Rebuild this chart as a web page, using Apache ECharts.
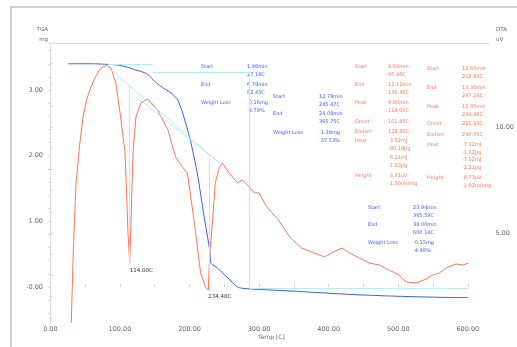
<!DOCTYPE html>
<html><head><meta charset="utf-8">
<script src="https://cdn.jsdelivr.net/npm/echarts@6/dist/echarts.min.js"></script>
<style>html,body{margin:0;padding:0;background:#fff}#c{width:517px;height:347px}</style>
</head><body><div id="c"></div>
<script>
// ---- data ----
const tgaTemp = [26, 60, 83, 97, 110, 121, 131, 140, 150, 161, 173, 183, 191, 201, 211, 221, 229, 231, 240, 254, 269, 276, 297, 354, 426, 497, 583, 600];
const tgaMass = [3.40, 3.40, 3.39, 3.38, 3.35, 3.31, 3.28, 3.24, 3.13, 3.04, 2.96, 2.85, 2.62, 2.24, 1.74, 1.07, 0.56, 0.36, 0.29, 0.15, 0.00, -0.02, -0.035, -0.065, -0.11, -0.14, -0.16, -0.16];

const dtaTemp = [30, 33, 37, 42, 47, 52, 57, 64, 71, 80, 87, 94, 101, 104, 107, 109, 111.5, 114, 116, 119, 123, 130, 140, 154, 169, 180, 190, 197, 207, 216, 223, 227, 229, 233, 237, 243, 247, 257, 269, 276, 286, 293, 300, 311, 328, 344, 361, 379, 394, 404, 419, 430, 444, 459, 473, 487, 501, 511, 526, 540, 550, 559, 569, 583, 593, 601];
const dtaSignal = [0.76, 4.21, 7.38, 9.15, 10.47, 11.27, 11.78, 12.31, 12.72, 12.91, 12.78, 12.08, 10.47, 9.62, 8.92, 7.36, 5.0, 3.58, 5.75, 8.92, 10.47, 11.13, 11.32, 10.8, 9.86, 8.58, 8.1, 7.83, 5.47, 3.11, 2.45, 2.31, 4.06, 5.47, 7.36, 8.11, 8.30, 7.83, 7.36, 7.5, 7.17, 6.89, 6.89, 6.23, 5.61, 4.81, 4.29, 4.06, 3.87, 4.06, 4.29, 4.06, 3.82, 3.58, 3.49, 3.25, 3.02, 2.69, 2.64, 2.83, 3.02, 3.11, 3.35, 3.54, 3.49, 3.58];

const xTickValues = [0, 50, 100, 150, 200, 250, 300, 350, 400, 450, 500, 550, 600];
const xLabelValues = [0, 100, 200, 300, 400, 500, 600];
const xTickLabels = ['0.00', '100.00', '200.00', '300.00', '400.00', '500.00', '600.00'];
const tgaLabelValues = [0, 1, 2, 3];
const tgaTickLabels = ['-0.00', '1.00', '2.00', '3.00'];
const tgaTickValues = [-0.4, -0.2, 0, 0.2, 0.4, 0.6, 0.8, 1, 1.2, 1.4, 1.6, 1.8, 2, 2.2, 2.4, 2.6, 2.8, 3, 3.2, 3.4, 3.6];
const dtaLabelValues = [5, 10];
const dtaTickLabels = ['5.00', '10.00'];
const dtaTickValues = [1, 2, 3, 4, 5, 6, 7, 8, 9, 10, 11, 12, 13];

const peakTemps = [114, 227];
const peakLabels = ['114.00C', '234.48C'];

// construction (tangent) lines in TGA axis units: [t1, m1, t2, m2]
const tangentLines = [
  [83, 3.40, 147, 3.40],
  [147, 3.27, 286, 3.27],
  [286, 3.27, 286, -0.02],
  [286, -0.02, 600, -0.02],
  [114, 3.08, 114, 0.33],
  [229, 1.98, 229, -0.05],
  [80, 3.37, 243, 1.89],
  [123, 2.90, 243, 1.89]
];

// result tables
const blueTable1 = [['Start', ['1.98min', '27.16C']], ['End', ['6.79min', '82.45C']], ['Weight Loss', ['-0.16mg', '-4.79%']]];
const blueTable2 = [['Start', ['12.78min', '245.47C']], ['End', ['24.08min', '365.75C']], ['Weight Loss', ['-1.38mg', '-37.53%']]];
const blueTable3 = [['Start', ['23.94min', '365.59C']], ['End', ['38.00min', '600.14C']], ['Weight Loss', ['-0.15mg', '-4.48%']]];
const redTable1 = [['Start', ['4.84min', '95.45C']], ['End', ['12.11min', '136.45C']], ['Peak', ['9.80min', '114.00C']], ['Onset', ['101.85C']], ['Endset', ['128.50C']], ['Heat', ['-3.52mJ', '-80.18J/g', '-6.24mJ', '-1.83J/g']], ['Height', ['-3.31uV', '-1.30uV/mg']]];
const redTable2 = [['Start', ['12.60min', '218.83C']], ['End', ['13.30min', '247.24C']], ['Peak', ['12.95min', '234.48C']], ['Onset', ['221.19C']], ['Endset', ['240.05C']], ['Heat', ['-7.12mJ', '-1.62J/g', '-7.52mJ', '-2.21J/g']], ['Height', ['-8.73uV', '-1.92uV/mg']]];

// ---- layout ----
const BLUE = '#3b5bf5', RED = '#ff7458', CYAN = '#b4eeee';
const AX = '#dcdcdc', LBL = '#666';
const FONT = 'DejaVu Sans';

function tableGraphics(rows, xL, xV, y0, rowYs, lineGap, color) {
  const out = [];
  rows.forEach((r, i) => {
    const y = rowYs[i];
    out.push({ type: 'text', left: xL, top: y - 3, style: { text: r[0], fill: color, font: '5px ' + FONT } });
    r[1].forEach((v, j) => {
      out.push({ type: 'text', left: xV, top: y - 3 + j * lineGap, style: { text: v, fill: color, font: '5px ' + FONT } });
    });
  });
  return out;
}

const graphics = [
  { type: 'rect', shape: { x: 11, y: 7, width: 620, height: 420 }, style: { fill: 'none', stroke: '#cfcfcf', lineWidth: 2 }, z: -1 },
  { type: 'text', right: 517 - 48, top: 27, style: { text: 'TGA', fill: LBL, font: '5.5px ' + FONT, textAlign: 'right' } },
  { type: 'text', right: 517 - 48, top: 37, style: { text: 'mg', fill: LBL, font: '5.5px ' + FONT, textAlign: 'right' } },
  { type: 'text', left: 496, top: 27, style: { text: 'DTA', fill: LBL, font: '5.5px ' + FONT } },
  { type: 'text', left: 496, top: 37, style: { text: 'uV', fill: LBL, font: '5.5px ' + FONT } },
  { type: 'text', left: 258, top: 334, style: { text: 'Temp [C]', fill: LBL, font: '6px ' + FONT } }
].concat(
  tableGraphics(blueTable1, 201, 247, 0, [67, 85, 103], 8.5, BLUE),
  tableGraphics(blueTable2, 273, 319, 0, [97, 114, 133], 8, BLUE),
  tableGraphics(blueTable3, 368, 413, 0, [208, 225, 243], 8.5, BLUE),
  tableGraphics(redTable1, 355, 388, 0, [67, 85, 103, 122, 132, 141, 176], 8.5, RED),
  tableGraphics(redTable2, 427, 462, 0, [69, 88, 107, 124, 135, 145, 178], 7.8, RED)
);

const tgaData = tgaTemp.map((t, i) => [t, tgaMass[i]]);
const dtaData = dtaTemp.map((t, i) => [t, dtaSignal[i]]);
const peakPoints = peakTemps.map((t, i) => ({
  coord: [t, dtaSignal[dtaTemp.indexOf(t)]],
  value: peakLabels[i]
}));

const chart = echarts.init(document.getElementById('c'), null, { renderer: 'canvas' });
chart.setOption({
  animation: false,
  backgroundColor: '#fff',
  grid: { left: 49, right: 23, top: 43, bottom: 24, containLabel: false },
  xAxis: [
    {
      type: 'value', min: -2, max: 631, position: 'bottom',
      axisLine: { show: false },
      axisTick: { show: true, inside: true, length: 3, customValues: xTickValues, lineStyle: { color: '#cfcfcf' } },
      axisLabel: { customValues: xLabelValues, margin: 3, fontSize: 6.5, color: LBL, fontFamily: FONT,
        formatter: v => xTickLabels[xLabelValues.indexOf(v)] },
      splitLine: { show: false }
    },
    {
      type: 'value', min: -2, max: 631, position: 'top',
      axisLine: { show: true, lineStyle: { color: AX } },
      axisTick: { show: false }, axisLabel: { show: false }, splitLine: { show: false }
    }
  ],
  yAxis: [
    {
      type: 'value', position: 'left', min: -0.548, max: 3.716,
      axisLine: { show: true, lineStyle: { color: AX } },
      axisTick: { show: true, length: 2, customValues: tgaTickValues, lineStyle: { color: '#cfcfcf' } },
      axisLabel: { customValues: tgaLabelValues, margin: 6, fontSize: 6.5, color: LBL, fontFamily: FONT,
        formatter: v => tgaTickLabels[tgaLabelValues.indexOf(v)] },
      splitLine: { show: false }
    },
    {
      type: 'value', position: 'right', min: 0.755, max: 13.96,
      axisLine: { show: true, lineStyle: { color: AX } },
      axisTick: { show: true, length: 2, customValues: dtaTickValues, lineStyle: { color: '#cfcfcf' } },
      axisLabel: { customValues: dtaLabelValues, margin: 6, fontSize: 6.5, color: LBL, fontFamily: FONT,
        formatter: v => dtaTickLabels[dtaLabelValues.indexOf(v)] },
      splitLine: { show: false }
    }
  ],
  series: [
    {
      type: 'line', xAxisIndex: 0, yAxisIndex: 0, data: tgaData, showSymbol: false, smooth: 0.2,
      lineStyle: { color: BLUE, width: 1 }, z: 3,
      markLine: {
        silent: true, symbol: 'none', label: { show: false },
        lineStyle: { color: CYAN, width: 1, type: 'solid' },
        data: tangentLines.map(l => [{ coord: [l[0], l[1]] }, { coord: [l[2], l[3]] }])
      }
    },
    {
      type: 'line', xAxisIndex: 0, yAxisIndex: 1, data: dtaData, showSymbol: false, clip: false,
      lineStyle: { color: RED, width: 1 }, z: 4,
      markPoint: {
        symbol: 'circle', symbolSize: 0,
        label: { show: true, position: [0, 4], align: 'left', verticalAlign: 'top', color: '#333', fontSize: 5.5, fontFamily: FONT,
          formatter: p => p.value },
        data: peakPoints
      }
    }
  ],
  graphic: graphics
});
</script></body></html>
